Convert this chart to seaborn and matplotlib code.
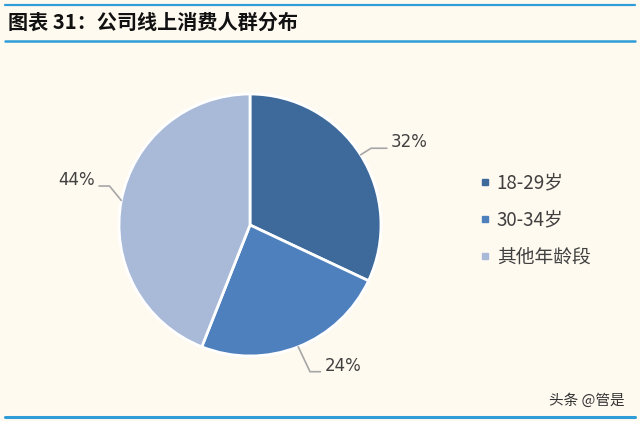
import numpy as np
import matplotlib
matplotlib.use("Agg")
import matplotlib.pyplot as plt
from matplotlib.lines import Line2D
import seaborn as sns

categories = ["18-29岁", "30-34岁", "其他年龄段"]
shares = [32, 24, 44]
labels = ["32%", "24%", "44%"]
colors = ["#3E6A9B", "#4E80BE", "#A9B9D8"]

sns.set_theme(style="white")
plt.rcParams["font.family"] = ["Noto Sans CJK SC", "DejaVu Sans"]

bg = "#FFFAF0"
line_c = "#2E9DD8"
fig = plt.figure(figsize=(6.4, 4.21), dpi=100, facecolor=bg)

# header / footer rules
for y, lw in [(1 - 5 / 421, 1.6), (1 - 41 / 421, 1.8), (1 - 417 / 421, 2.2)]:
    fig.add_artist(Line2D([5 / 640, 635 / 640], [y, y], color=line_c, lw=lw))

fig.text(8 / 640, 1 - 22 / 421, "图表 31：公司线上消费人群分布", fontsize=14.5,
         fontweight="bold", color="#111111", va="center", ha="left")
fig.text(625 / 640, 1 - 401 / 421, "头条 @管是", fontsize=10.5, color="#333333",
         va="center", ha="right")

ax = fig.add_axes([119 / 640, (421 - 225 - 131) / 421, 262 / 640, 262 / 421])
ax.set_facecolor(bg)
wedges, _ = ax.pie(shares, colors=colors, startangle=90, counterclock=False,
                   wedgeprops=dict(edgecolor="white", linewidth=2))
ax.set_aspect("equal")
ax.set_xlim(-1, 1)
ax.set_ylim(-1, 1)

# leader lines: short slanted piece from the rim to an elbow, then a horizontal run
elbow_off = [(0.08, 0.05), (0.09, -0.19), (-0.09, 0.11)]
run = [0.12, 0.08, 0.08]
for w, lab, (ex, ey), rl in zip(wedges, labels, elbow_off, run):
    m = np.deg2rad((w.theta1 + w.theta2) / 2)
    c, s = np.cos(m), np.sin(m)
    d = np.sign(c)
    p1 = (c, s)
    p2 = (c + ex, s + ey)
    p3 = (p2[0] + rl * d, p2[1])
    ax.plot([p1[0], p2[0], p3[0]], [p1[1], p2[1], p3[1]], color="#A6A6A6",
            lw=1.2, clip_on=False, solid_joinstyle="miter")
    ax.text(p3[0] + 0.03 * d, p3[1] + 0.045, lab, fontsize=12, color="#404040",
            ha="left" if d > 0 else "right", va="center", family="DejaVu Sans")

handles = [Line2D([], [], marker="s", ls="", markersize=5, color=c) for c in colors]
leg = fig.legend(handles, categories, loc="center left",
                 bbox_to_anchor=(462 / 640, 1 - 220 / 421), frameon=False,
                 fontsize=13.5, labelspacing=0.85, handletextpad=0.25,
                 handlelength=0.7, labelcolor="#404040")

fig.savefig("out.png", dpi=100, facecolor=bg)
